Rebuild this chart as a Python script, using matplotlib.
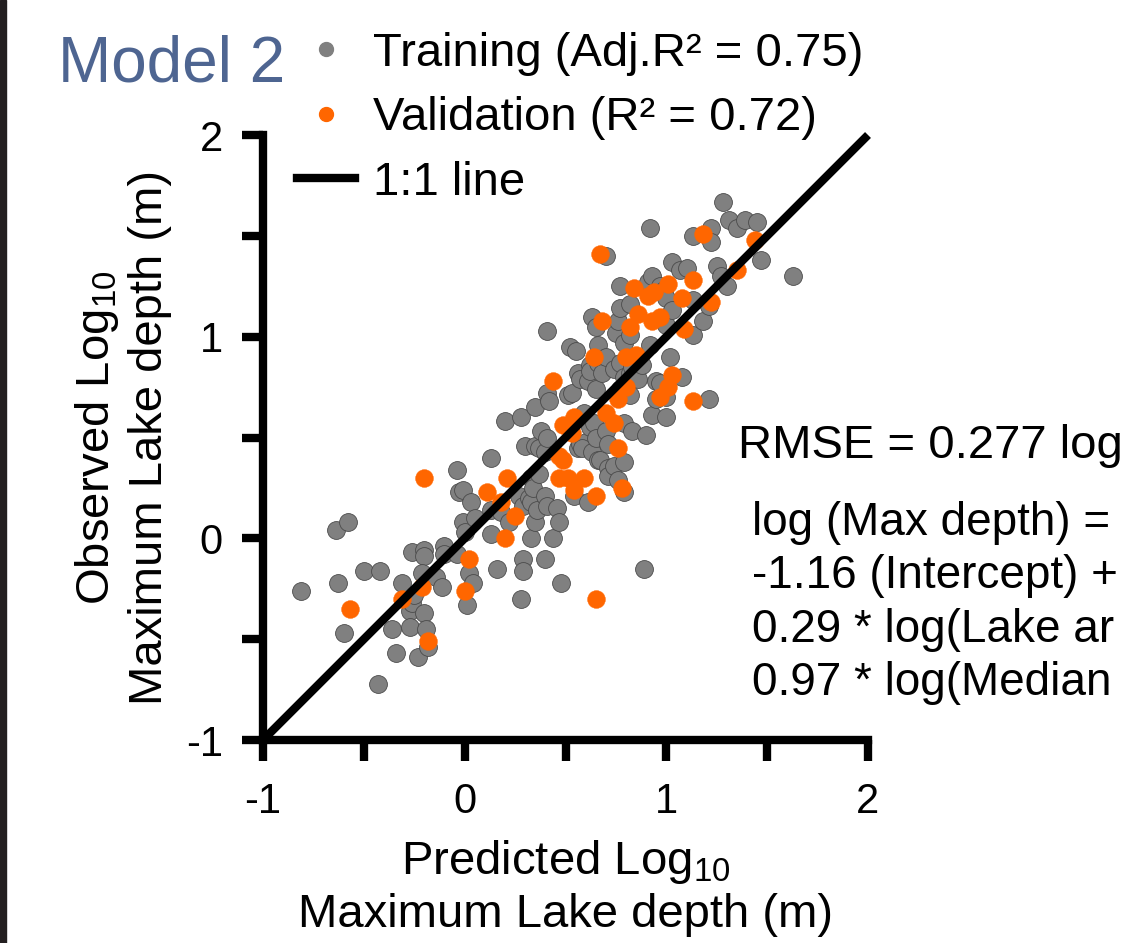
import matplotlib
matplotlib.use('Agg')
import matplotlib.pyplot as plt
from matplotlib.lines import Line2D
from matplotlib.patches import Rectangle
from matplotlib.ticker import MultipleLocator

plt.rcParams['font.family'] = ['Liberation Sans', 'DejaVu Sans']
plt.rcParams['axes.unicode_minus'] = False
plt.rcParams['mathtext.default'] = 'regular'

# predicted / observed log10 max depth
train_pred = [-0.81, -0.64, -0.58, -0.63, -0.60, -0.50, -0.42, -0.43, -0.36, -0.34,
              -0.31, -0.26, -0.20, -0.20, -0.23, -0.27, -0.26, -0.25, -0.21, -0.20,
              -0.27, -0.19, -0.18, -0.14, -0.11, -0.10, -0.10, -0.04, -0.01, 0.00,
              -0.03, -0.04, -0.01, 0.03, 0.02, 0.04, 0.01, 0.05, 0.13, 0.13,
              0.13, 0.16, 0.18, 0.20, 0.22, 0.27, 0.28, 0.28, 0.29, 0.29,
              0.29, 0.30, 0.32, 0.33, 0.33, 0.33, 0.34, 0.35, 0.35, 0.35,
              0.36, 0.37, 0.37, 0.38, 0.40, 0.40, 0.40, 0.41, 0.41, 0.42,
              0.41, 0.44, 0.46, 0.47, 0.48, 0.51, 0.53, 0.52, 0.55, 0.54,
              0.56, 0.56, 0.57, 0.57, 0.59, 0.60, 0.58, 0.61, 0.61, 0.62,
              0.62, 0.63, 0.62, 0.63, 0.64, 0.65, 0.65, 0.65, 0.66, 0.66,
              0.66, 0.67, 0.68, 0.70, 0.70, 0.70, 0.71, 0.71, 0.71, 0.74,
              0.74, 0.75, 0.76, 0.76, 0.77, 0.77, 0.77, 0.77, 0.79, 0.79,
              0.79, 0.79, 0.79, 0.82, 0.82, 0.82, 0.82, 0.83, 0.83, 0.86,
              0.88, 0.89, 0.90, 0.91, 0.92, 0.92, 0.93, 0.93, 0.95, 0.95,
              0.97, 0.97, 0.99, 1.00, 1.00, 1.00, 1.00, 1.02, 1.03, 1.03,
              1.07, 1.08, 1.10, 1.13, 1.13, 1.13, 1.18, 1.21, 1.21, 1.22,
              1.22, 1.25, 1.27, 1.28, 1.30, 1.31, 1.35, 1.39, 1.45, 1.47,
              1.63, 0.41]
train_obs = [-0.26, 0.04, 0.08, -0.22, -0.47, -0.16, -0.16, -0.72, -0.45, -0.57,
             -0.22, -0.07, -0.06, -0.09, -0.59, -0.36, -0.32, -0.28, -0.17, -0.37,
             -0.44, -0.45, -0.54, -0.19, -0.24, -0.04, -0.08, -0.08, 0.08, 0.03,
             0.23, 0.34, 0.24, 0.18, -0.17, -0.22, -0.33, 0.10, 0.14, 0.02,
             0.40, -0.15, 0.13, 0.58, 0.08, 0.21, 0.60, -0.30, 0.16, -0.10,
             -0.16, 0.46, 0.20, 0.00, 0.30, 0.18, 0.25, 0.46, 0.08, 0.65,
             0.14, 0.45, 0.32, 0.53, 0.43, 0.21, -0.10, 0.16, 0.72, 0.68,
             1.03, 0.00, 0.15, 0.08, -0.22, 0.71, 0.72, 0.95, 0.93, 0.21,
             0.82, 0.45, 0.79, 0.47, 0.62, 0.48, 0.45, 0.78, 0.18, 0.86,
             0.83, 0.43, 0.55, 1.10, 0.57, 0.74, 1.05, 0.50, 0.39, 0.87,
             0.96, 0.39, 0.82, 0.90, 0.53, 1.40, 0.35, 0.31, 0.47, 0.84,
             0.36, 1.02, 0.29, 1.08, 1.25, 1.14, 0.87, 0.74, 0.80, 0.97,
             0.57, 0.38, 0.23, 1.16, 1.01, 0.82, 0.71, 0.53, 0.85, 0.79,
             0.86, -0.15, 0.51, 1.27, 1.54, 0.96, 1.30, 0.61, 0.78, 0.69,
             1.25, 0.77, 1.23, 0.60, 1.19, 1.06, 0.70, 0.90, 1.13, 1.37,
             1.33, 0.80, 1.34, 1.50, 1.18, 1.01, 1.08, 0.69, 1.15, 1.54,
             1.47, 1.35, 1.30, 1.67, 1.25, 1.58, 1.54, 1.58, 1.57, 1.38,
             1.30, 0.50]

valid_pred = [-0.57, -0.31, -0.21, -0.20, -0.18, 0.00, 0.02, 0.11, 0.18, 0.20,
              0.21, 0.25, 0.44, 0.47, 0.49, 0.47, 0.51, 0.49, 0.53, 0.54,
              0.54, 0.59, 0.65, 0.65, 0.64, 0.67, 0.68, 0.70, 0.74, 0.76,
              0.76, 0.78, 0.80, 0.80, 0.82, 0.84, 0.85, 0.86, 0.91, 0.93,
              0.94, 0.97, 0.97, 1.01, 1.01, 1.03, 1.08, 1.09, 1.13, 1.13,
              1.18, 1.22, 1.35, 1.44]
valid_obs = [-0.35, -0.30, -0.24, 0.30, -0.51, -0.26, -0.10, 0.23, 0.18, 0.00,
             0.30, 0.11, 0.78, 0.41, 0.39, 0.30, 0.30, 0.56, 0.52, 0.60,
             0.24, 0.30, 0.21, -0.30, 0.90, 1.41, 1.08, 0.62, 0.57, 0.45,
             0.69, 0.25, 0.90, 0.75, 1.05, 1.24, 0.91, 1.11, 1.20, 1.08,
             1.22, 1.10, 0.70, 0.75, 1.26, 0.81, 1.19, 1.04, 1.28, 0.68,
             1.51, 1.17, 1.33, 1.48]

one_to_one = [-1, 2]
legend_labels = ['Training (Adj.R\u00b2 = 0.75)', 'Validation (R\u00b2 = 0.72)', '1:1 line']
rmse_text = 'RMSE = 0.277 log'
equation_lines = ['log (Max depth) =', '-1.16 (Intercept) +',
                  '0.29 * log(Lake ar', '0.97 * log(Median']

W, H = 1129, 943
fig = plt.figure(figsize=(W / 100, H / 100), dpi=100)
ax = fig.add_axes([263 / W, 203 / H, 605 / W, 605 / H])

ax.scatter(train_pred, train_obs, s=165, c='#808080', edgecolors='#4a4a4a',
           linewidths=0.6, zorder=2)
ax.scatter(valid_pred, valid_obs, s=165, c='#ff6600', edgecolors='#ff6600',
           linewidths=0.3, zorder=3)
ax.plot(one_to_one, one_to_one, color='black', lw=6, zorder=4,
        solid_capstyle='butt', clip_on=False)

ax.set_xlim(-1, 2)
ax.set_ylim(-1, 2)
ax.xaxis.set_major_locator(MultipleLocator(1))
ax.yaxis.set_major_locator(MultipleLocator(1))
ax.xaxis.set_minor_locator(MultipleLocator(0.5))
ax.yaxis.set_minor_locator(MultipleLocator(0.5))
for side in ['top', 'right']:
    ax.spines[side].set_visible(False)
for side in ['left', 'bottom']:
    ax.spines[side].set_linewidth(6)
    ax.spines[side].set_capstyle('projecting')
ax.tick_params(which='both', direction='out', length=15, width=6, labelsize=30)
ax.tick_params(axis='x', pad=15)
ax.tick_params(axis='y', pad=14)

ax.set_xlabel('Predicted Log$_{10}$\nMaximum Lake depth (m)', fontsize=34,
              labelpad=12, linespacing=1.2)
ax.set_ylabel('Observed Log$_{10}$\nMaximum Lake depth (m)', fontsize=34,
              labelpad=10, linespacing=1.2)

handles = [
    Line2D([], [], ls='none', marker='o', ms=10, mfc='#808080', mec='#808080'),
    Line2D([], [], ls='none', marker='o', ms=10, mfc='#ff6600', mec='#ff6600'),
    Line2D([], [], color='black', lw=6),
]
fig.legend(handles, legend_labels, loc='upper left',
           bbox_to_anchor=(297 / W, 1 - 32 / H), frameon=False, fontsize=34,
           handlelength=1.23, handletextpad=0.38, labelspacing=0.43,
           borderpad=0, borderaxespad=0)

fig.text(58 / W, 1 - 81 / H, 'Model 2', fontsize=46, color='#4e6591', va='baseline')
fig.text(738 / W, 1 - 458 / H, rmse_text, fontsize=34, va='baseline')
for i, line in enumerate(equation_lines):
    fig.text(752 / W, 1 - (535 + 53.3 * i) / H, line, fontsize=33, va='baseline')

fig.patches.append(Rectangle((0, 0), 6 / W, 1, transform=fig.transFigure,
                             color='#231f20', zorder=10))

fig.savefig('out.png', dpi=100)
